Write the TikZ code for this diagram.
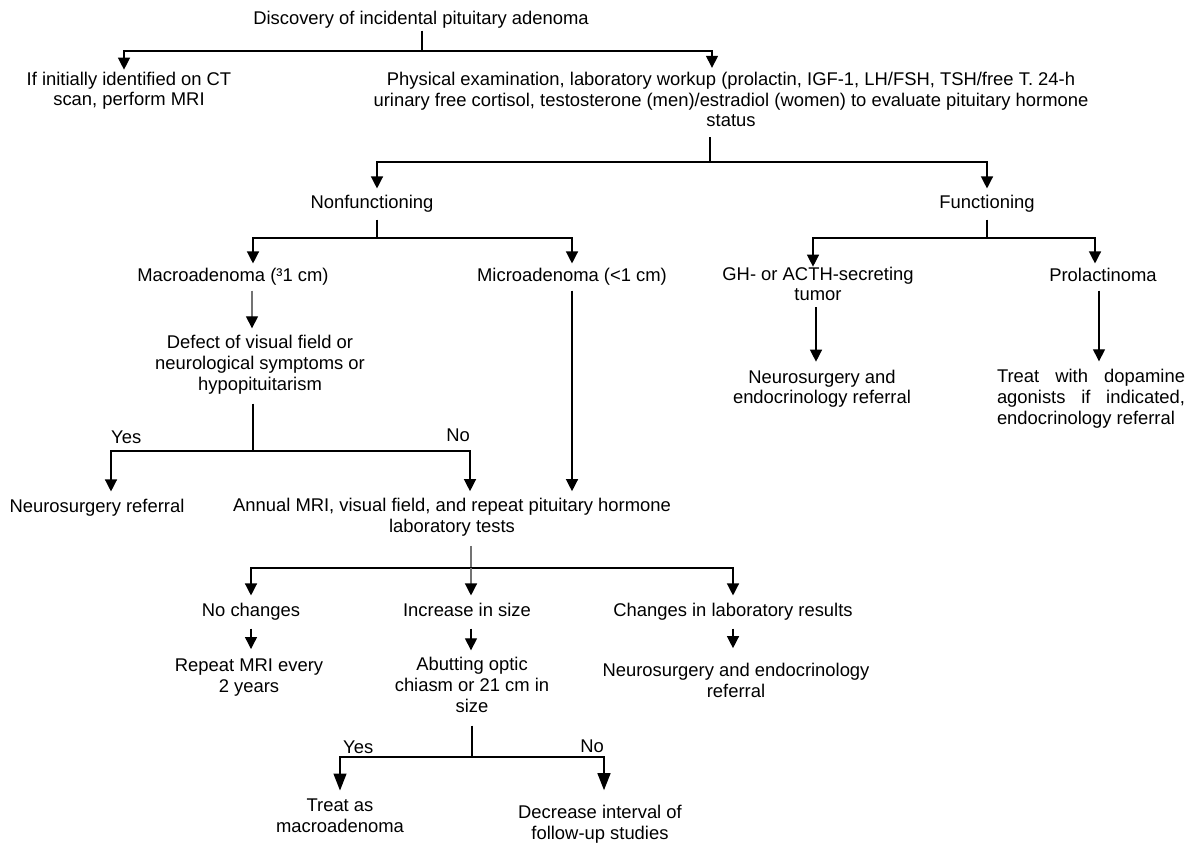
\documentclass[tikz,border=0pt]{standalone}
\usepackage{fontspec}
\setmainfont{Liberation Sans}
\usetikzlibrary{arrows.meta}

\begin{document}
\begin{tikzpicture}[x=1pt,y=-1pt,
  font=\fontsize{18.4pt}{20.7pt}\selectfont,
  txt/.style={inner xsep=0pt,inner ysep=#1,align=center,
    execute at begin node=\strut,execute at end node=\strut},
  txt/.default=4pt,
  lbl/.style={inner sep=0pt},
  ln/.style={line width=1.3pt},
  grayln/.style={line width=1.3pt,draw=black!55},
  arr/.style={ln,-{Triangle[width=12pt,length=12pt]}},
  bigarr/.style={ln,-{Triangle[width=13pt,length=17pt]}},
  grayarr/.style={grayln,-{Triangle[width=12pt,length=12pt,color=black]}}]
\useasboundingbox (0,0) rectangle (1191,848);

\node[txt=0pt] (disc) at (421,20) {Discovery of incidental pituitary adenoma};
\node[txt=2pt] (ct) at (129,92) {If initially identified on CT\\scan, perform MRI};
\node[txt=4pt] (phys) at (731,102.5) {Physical examination, laboratory workup (prolactin, IGF-1, LH/FSH, TSH/free T. 24-h\\urinary free cortisol, testosterone (men)/estradiol (women) to evaluate pituitary hormone\\status};
\node[txt=5pt] (nonf) at (372,204) {Nonfunctioning};
\node[txt=5pt] (func) at (987,204) {Functioning};
\node[txt=3pt] (macro) at (233,277) {Macroadenoma (³1 cm)};
\node[txt=3pt] (micro) at (572,277) {Microadenoma (<1 cm)};
\node[txt=0pt] (gh) at (818,287) {GH- or ACTH-secreting\\tumor};
\node[txt=3pt] (prol) at (1103,277) {Prolactinoma};
\node[txt=7pt] (defect) at (260,366) {Defect of visual field or\\neurological symptoms or\\hypopituitarism};
\node[txt=8pt] (gnref) at (822,390) {Neurosurgery and\\endocrinology referral};
\node[txt=8pt,align=left] (treat) at (1091,400) {\makebox[188pt][s]{Treat with dopamine}\\\makebox[188pt][s]{agonists if indicated,}\\endocrinology referral};
\node[txt=6pt] (neurref) at (97,508) {Neurosurgery referral};
\node[txt=7pt] (annual) at (452,518.5) {Annual MRI, visual field, and repeat pituitary hormone\\laboratory tests};
\node[txt=6pt] (nochg) at (251,612) {No changes};
\node[txt=6pt] (incr) at (467,612) {Increase in size};
\node[txt=6pt] (chg) at (733,612) {Changes in laboratory results};
\node[txt=10pt] (rmri) at (249,679) {Repeat MRI every\\2 years};
\node[txt=7pt] (abut) at (472,688) {Abutting optic\\chiasm or 21 cm in\\size};
\node[txt=15pt] (neref) at (736,683.5) {Neurosurgery and endocrinology\\referral};
\node[txt=8pt] (treatmac) at (340,818.5) {Treat as\\macroadenoma};
\node[txt=15pt] (decr) at (600,825.5) {Decrease interval of\\follow-up studies};

\node[lbl,anchor=west] (yes1) at (111,437) {Yes};
\node[lbl,anchor=east] (no1) at (470,435) {No};
\node[lbl,anchor=west] (yes2) at (343,747) {Yes};
\node[lbl,anchor=east] (no2) at (604,746) {No};

\coordinate (j0) at (422,51);
\coordinate (j1) at (710,162);
\coordinate (j2) at (377,238);
\coordinate (j3) at (987,238);
\coordinate (j4) at (253,451);
\coordinate (j5) at (471,568);
\coordinate (j6) at (472,757);

\draw[ln] (j0 |- disc.south) -- (j0);
\draw[arr] (j0) -| ([xshift=-5pt]ct.north);
\draw[arr] (j0) -| ([xshift=-19pt]phys.north);
\draw[ln] (j1 |- phys.south) -- (j1);
\draw[arr] (j1) -| ([xshift=5pt]nonf.north);
\draw[arr] (j1) -| (func.north);
\draw[ln] (j2 |- nonf.south) -- (j2);
\draw[arr] (j2) -| ([xshift=20pt]macro.north);
\draw[arr] (j2) -| (micro.north);
\draw[ln] (j3 |- func.south) -- (j3);
\draw[arr] (j3) -| ([xshift=-5pt]gh.north);
\draw[arr] (j3) -| ([xshift=-8pt]prol.north);
\draw[grayarr] ([xshift=19pt]macro.south) -- ([xshift=19pt]macro.south |- defect.north);
\draw[arr] (micro.south) -- (micro.south |- annual.north);
\draw[arr] ([xshift=-2pt]gh.south) -- ([xshift=-2pt]gh.south |- gnref.north);
\draw[arr] ([xshift=-4pt]prol.south) -- ([xshift=-4pt]prol.south |- treat.north);
\draw[ln] (j4 |- defect.south) -- (j4);
\draw[arr] (j4) -| ([xshift=14pt]neurref.north);
\draw[arr] (j4) -| ([xshift=18pt]annual.north);
\draw[grayln] (j5 |- annual.south) -- (j5);
\draw[arr] (j5) -| (nochg.north);
\draw[arr] (j5) -| (chg.north);
\draw[grayarr] (j5) -- (j5 |- incr.north);
\draw[arr] (nochg.south) -- (nochg.south |- rmri.north);
\draw[arr] ([xshift=4pt]incr.south) -- ([xshift=4pt]incr.south |- abut.north);
\draw[arr] (chg.south) -- (chg.south |- neref.north);
\draw[ln] (j6 |- abut.south) -- (j6);
\draw[bigarr] (j6) -| (treatmac.north);
\draw[bigarr] (j6) -| ([xshift=4pt]decr.north);
\end{tikzpicture}
\end{document}
